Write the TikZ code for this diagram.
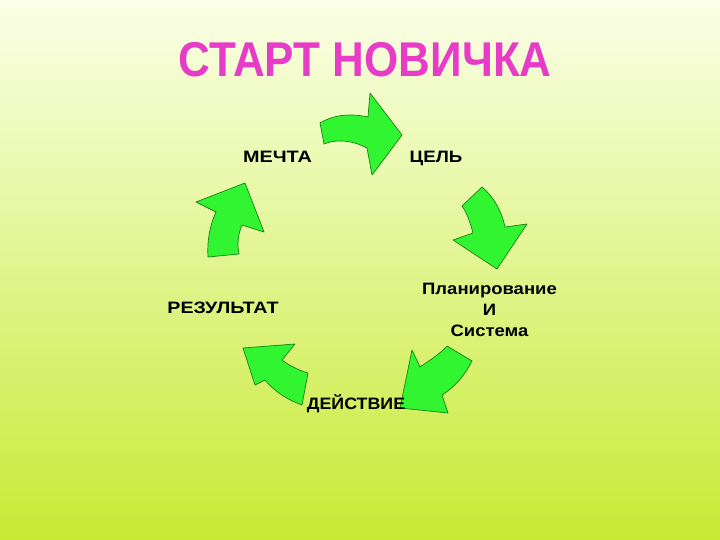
\documentclass[tikz,border=0pt]{standalone}
\usepackage{fontspec}
\setmainfont{Liberation Sans}
\definecolor{bgtop}{RGB}{251,255,232}
\definecolor{bgmid}{RGB}{230,248,155}
\definecolor{bgbot}{RGB}{200,234,52}
\definecolor{titlemag}{RGB}{230,60,200}
\definecolor{arrowfill}{RGB}{48,245,48}
\definecolor{arrowedge}{RGB}{20,130,20}
\tikzset{
  cyclearrow/.style={fill=arrowfill, draw=arrowedge, line width=0.7pt, line join=round},
  lbl/.style={inner sep=0pt, anchor=base, font=\bfseries\fontsize{16.5}{19}\selectfont, text=black},
  ttl/.style={inner sep=0pt, anchor=base, font=\bfseries\fontsize{44}{50}\selectfont, text=titlemag}
}
\begin{document}
\begin{tikzpicture}[x=1pt,y=-1pt]
\useasboundingbox (0,0) rectangle (720,540);
\shade[top color=bgtop, middle color=bgmid, bottom color=bgbot] (0,0) rectangle (720,540);

% arrows
\path[cyclearrow] (320,123) .. controls (333,115) and (350,113) .. (368,117)
  -- (370,93) -- (402,135) -- (372,175) -- (367,148)
  .. controls (352,140) and (336,139) .. (324,144) -- cycle;
\path[cyclearrow] (462,206) -- (482,187) .. controls (494,197) and (502,212) .. (505,227)
  -- (527,224) -- (497,269) -- (453,240) -- (473,233)
  .. controls (470,222) and (467,213) .. cycle;
\path[cyclearrow] (447,346) -- (472,361) .. controls (465,375) and (455,387) .. (442,395)
  -- (448,413) -- (400,408) -- (412,350) -- (420,367)
  .. controls (430,360) and (440,354) .. cycle;
\path[cyclearrow] (243,348) -- (255,385) -- (265,380)
  .. controls (275,392) and (288,400) .. (302,405) -- (308,373)
  .. controls (298,370) and (290,366) .. (282,360) -- (295,344) -- cycle;
\path[cyclearrow] (196,202) -- (245,183) -- (264,232) -- (242,225)
  .. controls (238,234) and (237,245) .. (239,254) -- (208,257)
  .. controls (207,240) and (210,225) .. (216,212) -- cycle;

% title
\node[ttl] (title) at (365,77) {\scalebox{1}[1.11]{СТАРТ НОВИЧКА}};

% labels
\node[lbl] (dream) at (277.5,163) {\scalebox{1.2}[1]{МЕЧТА}};
\node[lbl] (goal) at (436,163) {\scalebox{1.13}[1]{ЦЕЛЬ}};
\node[lbl] (plan1) at (489.5,294.5) {\scalebox{1.12}[1]{Планирование}};
\node[lbl] (plan2) at (489.5,315) {\scalebox{1.12}[1]{И}};
\node[lbl] (plan3) at (489.5,336.5) {\scalebox{1.12}[1]{Система}};
\node[lbl] (action) at (356,409) {\scalebox{1.08}[1]{ДЕЙСТВИЕ}};
\node[lbl] (result) at (223,313.5) {\scalebox{1.19}[1]{РЕЗУЛЬТАТ}};
\end{tikzpicture}
\end{document}
